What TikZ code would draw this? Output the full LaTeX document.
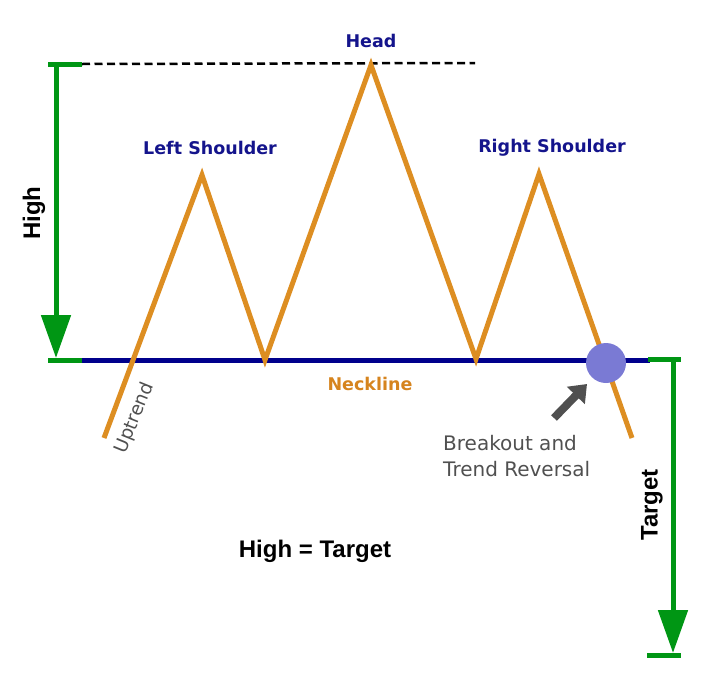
\documentclass[tikz,border=0pt]{standalone}
\usepackage{fontspec}
\setmainfont{DejaVu Sans}
\newfontfamily\arialfont{Liberation Sans}
\usetikzlibrary{arrows.meta}
\definecolor{grn}{RGB}{0,150,20}
\definecolor{neck}{RGB}{0,0,140}
\definecolor{lbl}{RGB}{20,20,140}
\definecolor{org}{RGB}{221,142,34}
\definecolor{orgtxt}{RGB}{214,132,30}
\definecolor{gtxt}{RGB}{80,80,80}
\definecolor{circ}{RGB}{122,122,212}
\tikzset{
  greenline/.style={draw=grn,line width=5pt},
  greenarrow/.style={draw=grn,fill=grn,line width=5pt,-{Triangle[length=43pt,width=29pt]}},
  bluelabel/.style={text=lbl,font=\bfseries\fontsize{17.5}{20}\selectfont},
  blacklabel/.style={text=black,font=\arialfont\bfseries\fontsize{24}{28}\selectfont},
  graylabel/.style={text=gtxt,font=\fontsize{20}{26}\selectfont},
  price/.style={draw=org,line width=5pt,line join=miter,line cap=butt},
}
\begin{document}
\begin{tikzpicture}[x=1pt,y=-1pt]
\useasboundingbox (0,0) rectangle (713,683);
% points
\coordinate (p0) at (104,438);
\coordinate (p1) at (202,175);
\coordinate (p2) at (265,360);
\coordinate (p3) at (371,65);
\coordinate (p4) at (476,359);
\coordinate (p5) at (539,174);
\coordinate (p6) at (632,438);
\coordinate (hTopL) at (48,64);
\coordinate (hTopR) at (82,64);
\coordinate (hTop) at (56,64);
\coordinate (hBot) at (56,358);
\coordinate (hBotL) at (48,360);
\coordinate (hBotR) at (82,360);
\coordinate (dashEnd) at (475,63);
\coordinate (neckEnd) at (650,360);
\coordinate (tTopL) at (648,359);
\coordinate (tTopR) at (681,359);
\coordinate (tTop) at (673,359);
\coordinate (tBot) at (673,653);
\coordinate (tBotL) at (647,655);
\coordinate (tBotR) at (681,655);
\coordinate (arTail) at (554,418);
\coordinate (arTip) at (587,384);
% dashed head line
\draw[black,line width=2.5pt,dash pattern=on 8pt off 4.5pt] (hTopR) -- (dashEnd);
% neckline
\draw[neck,line width=5pt] (hBotR) -- (neckEnd);
% price path
\draw[price] (p0) -- (p1) -- (p2) -- (p3) -- (p4) -- (p5) -- (p6);
% High measure
\draw[greenline] (hTopL) -- (hTopR);
\draw[greenarrow] (hTop) -- (hBot);
\draw[greenline] (hBotL) -- (hBotR);
% Target measure
\draw[greenline] (tTopL) -- (tTopR);
\draw[greenarrow] (tTop) -- (tBot);
\draw[greenline] (tBotL) -- (tBotR);
% breakout circle
\node[circle,fill=circ,minimum size=40pt,inner sep=0pt] (brk) at (606,363) {};
% gray arrow
\draw[draw=gtxt,fill=gtxt,line width=8pt,-{Triangle[length=16pt,width=24pt]}] (arTail) -- (arTip);
% labels
\node[bluelabel] (head) at (371,41) {Head};
\node[bluelabel] (ls) at (210,148) {Left Shoulder};
\node[bluelabel] (rs) at (552,148) {Right Shoulder};
\node[text=orgtxt,font=\bfseries\fontsize{17.5}{20}\selectfont] (neckl) at (370,384) {Neckline};
\node[text=gtxt,font=\fontsize{18.5}{20}\selectfont,rotate=68,inner sep=0pt] (up) at (135,418) {Uptrend};
\node[graylabel,anchor=west,align=left,inner sep=0pt] (bo) at (443,456) {Breakout and\\Trend Reversal};
\node[blacklabel,rotate=90] (high) at (34,213) {High};
\node[blacklabel,rotate=90] (target) at (652,505) {Target};
\node[blacklabel] (eq) at (315,551) {High = Target};
\end{tikzpicture}
\end{document}
